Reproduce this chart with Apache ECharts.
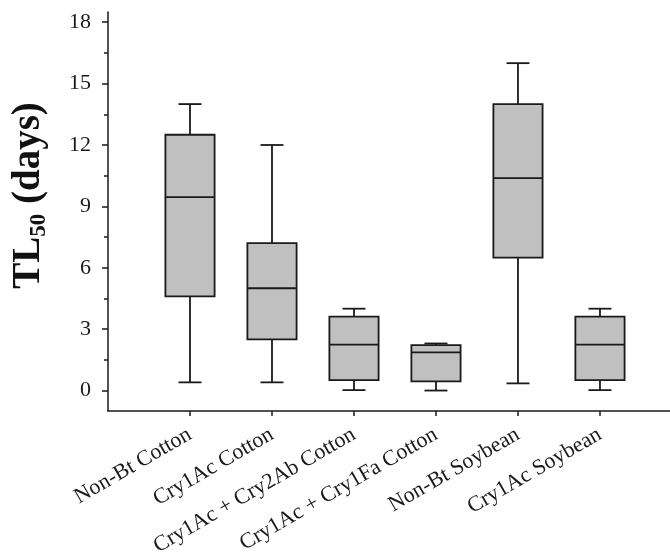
<!DOCTYPE html>
<html>
<head>
<meta charset="utf-8">
<script src="https://cdn.jsdelivr.net/npm/echarts@6/dist/echarts.min.js"></script>
<style>
  html, body { margin: 0; padding: 0; background: #fff; }
  #main { width: 670px; height: 557px; }
</style>
</head>
<body>
<div id="main"></div>
<script>
// groups on the x axis
const categories = ['Non-Bt Cotton', 'Cry1Ac Cotton', 'Cry1Ac + Cry2Ab Cotton',
    'Cry1Ac + Cry1Fa Cotton', 'Non-Bt Soybean', 'Cry1Ac Soybean'];

// box statistics (days)
const whiskerLow  = [0.4, 0.4, 0.02, 0.0, 0.35, 0.02];
const quartile1   = [4.6, 2.5, 0.51, 0.45, 6.5, 0.51];
const median      = [9.45, 5.0, 2.24, 1.87, 10.38, 2.24];
const quartile3   = [12.5, 7.2, 3.61, 2.22, 14.0, 3.61];
const whiskerHigh = [14.0, 12.0, 4.0, 2.3, 16.0, 4.0];

// tick values
const yMajorTicks = [0, 3, 6, 9, 12, 15, 18];
const yMinorTicks = [1.5, 4.5, 7.5, 10.5, 13.5, 16.5];
const xTicks = [1, 2, 3, 4, 5, 6];

const BOX_W = 0.6;
const CAP_W = 0.28;
const INK = '#1a1a1a';
const SERIF = '"Times New Roman", "Liberation Serif", serif';

const rows = categories.map((c, i) => [i + 1, whiskerLow[i], quartile1[i], median[i], quartile3[i], whiskerHigh[i]]);

function renderBox(params, api) {
    const x = api.value(0);
    const lo = api.coord([x, api.value(1)]);
    const q1 = api.coord([x, api.value(2)]);
    const md = api.coord([x, api.value(3)]);
    const q3 = api.coord([x, api.value(4)]);
    const hi = api.coord([x, api.value(5)]);
    const bw = api.size([BOX_W, 0])[0];
    const cw = api.size([CAP_W, 0])[0];
    const line = { stroke: INK, lineWidth: 1.8, fill: null };
    return {
        type: 'group',
        children: [
            { type: 'line', shape: { x1: hi[0], y1: hi[1], x2: q3[0], y2: q3[1] }, style: line },
            { type: 'line', shape: { x1: q1[0], y1: q1[1], x2: lo[0], y2: lo[1] }, style: line },
            { type: 'line', shape: { x1: hi[0] - cw / 2, y1: hi[1], x2: hi[0] + cw / 2, y2: hi[1] }, style: line },
            { type: 'line', shape: { x1: lo[0] - cw / 2, y1: lo[1], x2: lo[0] + cw / 2, y2: lo[1] }, style: line },
            {
                type: 'rect',
                shape: { x: q3[0] - bw / 2, y: q3[1], width: bw, height: q1[1] - q3[1] },
                style: { fill: '#c0c0c0', stroke: INK, lineWidth: 1.8 }
            },
            { type: 'line', shape: { x1: md[0] - bw / 2, y1: md[1], x2: md[0] + bw / 2, y2: md[1] }, style: line }
        ]
    };
}

const chart = echarts.init(document.getElementById('main'));
chart.setOption({
    animation: false,
    backgroundColor: '#fff',
    grid: { left: 108, right: 0, top: 12, bottom: 146, containLabel: false, outerBoundsMode: 'none' },
    xAxis: {
        type: 'value',
        min: 0,
        max: 6.854,
        splitLine: { show: false },
        axisLine: { show: true, onZero: false, lineStyle: { color: INK, width: 1.5 } },
        axisTick: { show: true, customValues: xTicks, length: 5, lineStyle: { color: INK, width: 1.5 } },
        axisLabel: {
            customValues: xTicks,
            formatter: v => categories[Math.round(v) - 1] || '',
            rotate: 30,
            margin: 22,
            fontFamily: SERIF,
            fontSize: 22,
            color: INK
        }
    },
    yAxis: [{
        type: 'value',
        min: -1.0,
        max: 18.5,
        position: 'left',
        splitLine: { show: false },
        axisLine: { show: true, onZero: false, lineStyle: { color: INK, width: 1.5 } },
        axisTick: { show: true, customValues: yMajorTicks, length: 6, lineStyle: { color: INK, width: 1.5 } },
        axisLabel: {
            customValues: yMajorTicks,
            margin: 17,
            fontFamily: SERIF,
            fontSize: 22,
            color: INK
        },
        name: '{a|TL}{s|50}{a| (days)}',
        nameLocation: 'middle',
        nameRotate: 90,
        nameGap: 57,
        nameTextStyle: {
            padding: [0, 0, 0, 32],
            rich: {
                a: { fontFamily: SERIF, fontSize: 39, fontWeight: 'bold', color: '#111', lineHeight: 44 },
                s: { fontFamily: SERIF, fontSize: 23, fontWeight: 'bold', color: '#111', lineHeight: 44, verticalAlign: 'bottom' }
            }
        }
    }, {
        type: 'value',
        min: -1.0,
        max: 18.5,
        position: 'left',
        splitLine: { show: false },
        axisLine: { show: false, onZero: false },
        axisLabel: { show: false },
        axisTick: { show: true, customValues: yMinorTicks, length: 4, lineStyle: { color: INK, width: 1.5 } }
    }],
    series: [{
        type: 'custom',
        renderItem: renderBox,
        encode: { x: 0, y: [1, 2, 3, 4, 5] },
        data: rows
    }]
});
</script>
</body>
</html>
